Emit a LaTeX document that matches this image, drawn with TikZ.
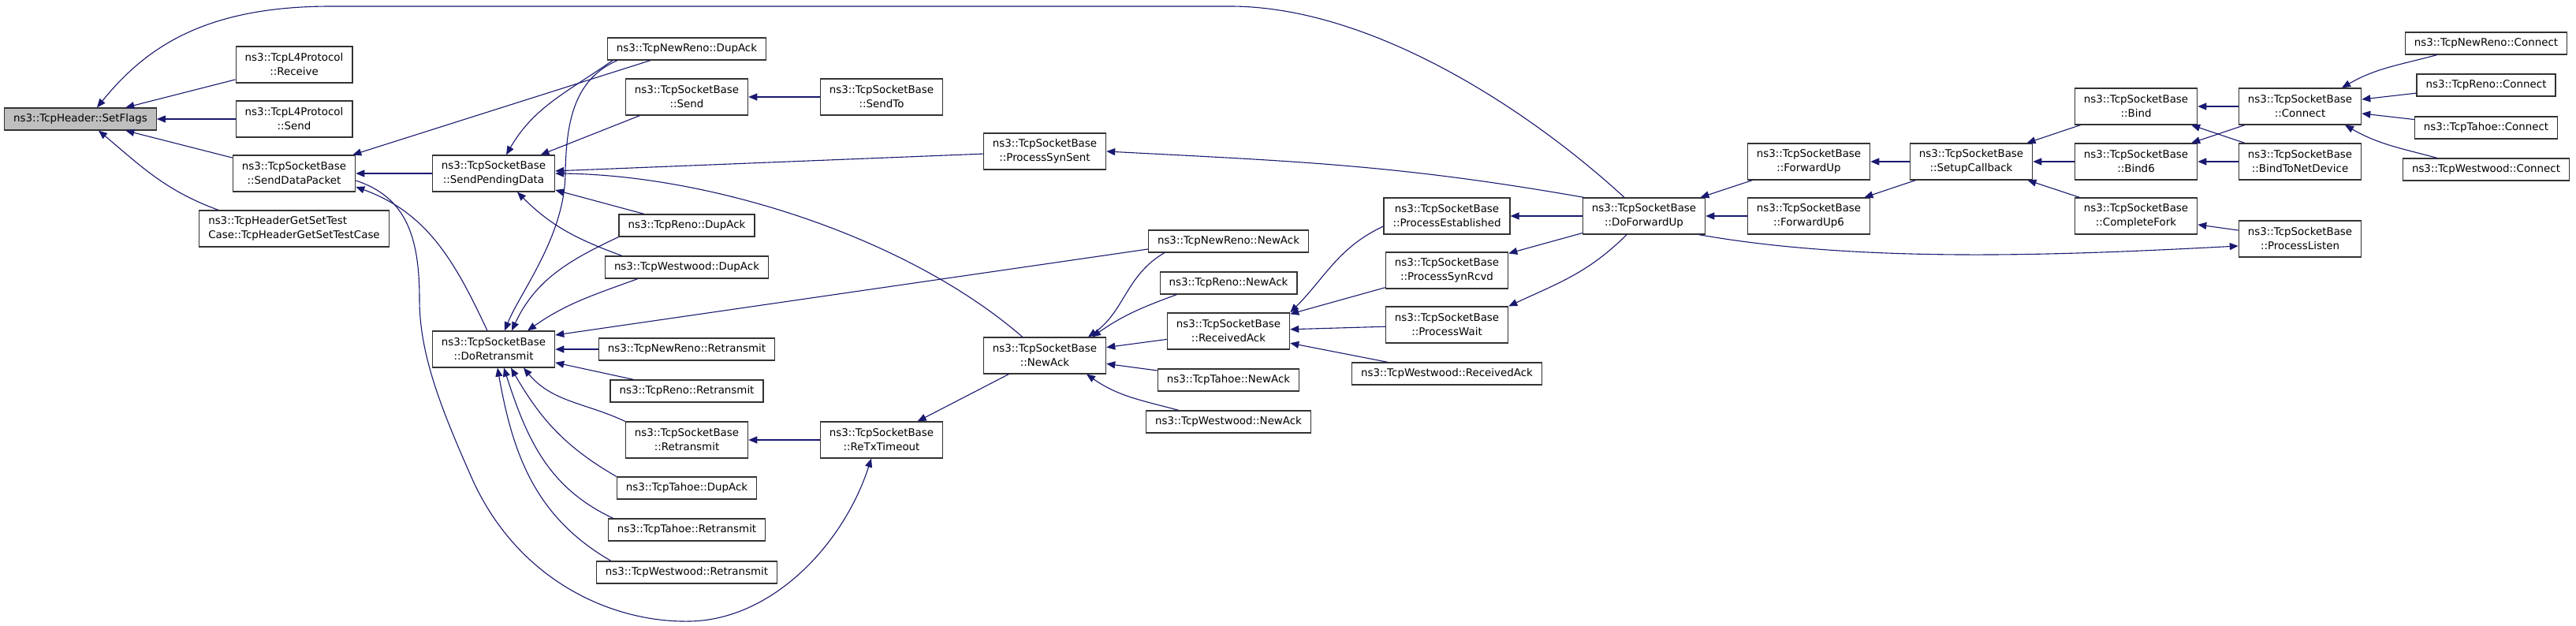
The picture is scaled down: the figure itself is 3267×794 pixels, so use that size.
\documentclass[tikz,border=0pt]{standalone}
\usepackage{fontspec}
\setmainfont{DejaVu Sans}
\usetikzlibrary{arrows.meta}
\definecolor{edgeblue}{HTML}{191970}
\definecolor{rootgray}{HTML}{BFBFBF}
\tikzset{
  fn/.style={draw=black!80, line width=1.2pt, fill=white, inner xsep=11.5pt, inner ysep=0pt,
    minimum height=28pt, font=\fontsize{13.4}{18}\selectfont},
  fn2/.style={fn, align=center, minimum height=46pt},
  root/.style={fn, fill=rootgray},
  call/.style={draw=edgeblue, line width=1.1pt, -{Triangle[length=11pt,width=9pt]}},
}
\begin{document}
\begin{tikzpicture}[x=1pt,y=-1pt]
\path[fill=white] (0,0) rectangle (3267,794);
\useasboundingbox (0,0) rectangle (3267,794);
\node[root] (sf) at (102,151) {ns3::TcpHeader::SetFlags};
\node[fn2] (l4rcv) at (373,82) {ns3::TcpL4Protocol\\::Receive};
\node[fn2] (l4snd) at (373,151) {ns3::TcpL4Protocol\\::Send};
\node[fn2] (sdp) at (373,220) {ns3::TcpSocketBase\\::SendDataPacket};
\node[fn2, align=left] (tc) at (373,290) {ns3::TcpHeaderGetSetTest\\Case::TcpHeaderGetSetTestCase};
\node[fn2] (spd) at (626,220) {ns3::TcpSocketBase\\::SendPendingData};
\node[fn2] (dortx) at (626,443) {ns3::TcpSocketBase\\::DoRetransmit};
\node[fn] (nrdup) at (871,62) {ns3::TcpNewReno::DupAck};
\node[fn2] (snd) at (871,123) {ns3::TcpSocketBase\\::Send};
\node[fn] (renodup) at (871,286) {ns3::TcpReno::DupAck};
\node[fn] (wwdup) at (871,339) {ns3::TcpWestwood::DupAck};
\node[fn] (nrrtx) at (871,443) {ns3::TcpNewReno::Retransmit};
\node[fn] (renortx) at (871,496) {ns3::TcpReno::Retransmit};
\node[fn2] (rtx) at (871,558) {ns3::TcpSocketBase\\::Retransmit};
\node[fn] (tahoedup) at (871,619) {ns3::TcpTahoe::DupAck};
\node[fn] (tahoertx) at (871,672) {ns3::TcpTahoe::Retransmit};
\node[fn] (wwrtx) at (871,726) {ns3::TcpWestwood::Retransmit};
\node[fn2] (sndto) at (1118,123) {ns3::TcpSocketBase\\::SendTo};
\node[fn2] (rtxto) at (1118,558) {ns3::TcpSocketBase\\::ReTxTimeout};
\node[fn2] (pss) at (1325,192) {ns3::TcpSocketBase\\::ProcessSynSent};
\node[fn2] (newack) at (1325,451) {ns3::TcpSocketBase\\::NewAck};
\node[fn] (nrnew) at (1558,306) {ns3::TcpNewReno::NewAck};
\node[fn] (renonew) at (1558,359) {ns3::TcpReno::NewAck};
\node[fn2] (rack) at (1558,420) {ns3::TcpSocketBase\\::ReceivedAck};
\node[fn] (tahoenew) at (1558,482) {ns3::TcpTahoe::NewAck};
\node[fn] (wwnew) at (1558,535) {ns3::TcpWestwood::NewAck};
\node[fn2] (pe) at (1835,274) {ns3::TcpSocketBase\\::ProcessEstablished};
\node[fn2] (psr) at (1835,343) {ns3::TcpSocketBase\\::ProcessSynRcvd};
\node[fn2] (pw) at (1835,412) {ns3::TcpSocketBase\\::ProcessWait};
\node[fn] (wwrack) at (1835,474) {ns3::TcpWestwood::ReceivedAck};
\node[fn2] (dfu) at (2085,274) {ns3::TcpSocketBase\\::DoForwardUp};
\node[fn2] (fu) at (2294,205) {ns3::TcpSocketBase\\::ForwardUp};
\node[fn2] (fu6) at (2294,274) {ns3::TcpSocketBase\\::ForwardUp6};
\node[fn2] (scb) at (2500,205) {ns3::TcpSocketBase\\::SetupCallback};
\node[fn2] (bind) at (2709,135) {ns3::TcpSocketBase\\::Bind};
\node[fn2] (bind6) at (2709,205) {ns3::TcpSocketBase\\::Bind6};
\node[fn2] (cfork) at (2709,274) {ns3::TcpSocketBase\\::CompleteFork};
\node[fn2] (conn) at (2917,135) {ns3::TcpSocketBase\\::Connect};
\node[fn2] (btnd) at (2917,205) {ns3::TcpSocketBase\\::BindToNetDevice};
\node[fn2] (plisten) at (2917,303) {ns3::TcpSocketBase\\::ProcessListen};
\node[fn] (nrconn) at (3153,55) {ns3::TcpNewReno::Connect};
\node[fn] (renoconn) at (3153,108) {ns3::TcpReno::Connect};
\node[fn] (tahoeconn) at (3153,162) {ns3::TcpTahoe::Connect};
\node[fn] (wwconn) at (3153,215) {ns3::TcpWestwood::Connect};
% straight calls
\foreach \a/\b in {l4rcv/sf, l4snd/sf, sdp/sf, spd/sdp, nrdup/sdp, snd/spd, sndto/snd, pss/spd,
    renodup/spd, nrrtx/dortx, renortx/dortx, rtxto/rtx, newack/rtxto, rack/newack, tahoenew/newack,
    psr/rack, pw/rack, wwrack/rack, dfu/pe, dfu/psr, fu/dfu, fu6/dfu, scb/fu, scb/fu6, bind/scb,
    bind6/scb, cfork/scb, conn/bind, btnd/bind, conn/bind6, btnd/bind6, plisten/cfork,
    renoconn/conn, tahoeconn/conn}
    \draw[call] (\a) -- (\b);
% curved calls
\draw[call] ([xshift=-25pt]dfu.north) .. controls (1940,140) and (1740,8) .. (1560,8) -- (420,8)
    .. controls (260,8) and (185,60) .. ([xshift=21pt]sf.north);
\draw[call] ([xshift=-96pt]tc.north) to[out=160,in=-40] ([xshift=23pt]sf.south);
\draw[call] ([xshift=-8pt]dortx.north) to[out=115,in=-20] ([yshift=-17pt]sdp.east);
\draw[call] ([yshift=-9pt]sdp.east) .. controls (515,250) and (532,300) .. (532,380)
    .. controls (532,450) and (560,520) .. (600,610) .. controls (660,740) and (780,790) .. (875,788)
    .. controls (980,786) and (1070,690) .. ([xshift=-13pt]rtxto.south);
\draw[call] ([xshift=-94pt]nrdup.south) to[out=215,in=60] ([xshift=16pt]spd.north);
\draw[call] ([xshift=50pt]newack.north west) .. controls (1150,300) and (900,222) .. (spd.east);
\draw[call] ([xshift=22pt]wwdup.north west) to[out=160,in=-45] ([xshift=30pt]spd.south);
\draw[call] ([xshift=-88pt]nrdup.south) .. controls (730,100) and (718,150) .. (717,220)
    .. controls (716,300) and (660,370) .. ([xshift=14pt]dortx.north);
\draw[call] (renodup.south west) to[out=205,in=65] ([xshift=23pt]dortx.north);
\draw[call] ([xshift=42pt]wwdup.south west) to[out=200,in=35] ([xshift=43pt]dortx.north);
\draw[call] ([yshift=-10pt]nrnew.west) -- ([yshift=18pt]dortx.east);
\draw[call] (rtx.north west) to[out=155,in=-50] ([xshift=38pt]dortx.south);
\draw[call] (tahoedup.north west) to[out=150,in=-60] ([xshift=22pt]dortx.south);
\draw[call] ([xshift=7pt]tahoertx.north west) to[out=155,in=-72] ([xshift=13pt]dortx.south);
\draw[call] ([xshift=19pt]wwrtx.north west) to[out=150,in=-80] ([xshift=5pt]dortx.south);
\draw[call] ([xshift=21pt]nrnew.south west) to[out=210,in=35] ([xshift=55pt]newack.north);
\draw[call] ([xshift=22pt]renonew.south west) to[out=200,in=35] ([xshift=60pt]newack.north);
\draw[call] ([xshift=42pt]wwnew.north west) to[out=165,in=-35] ([xshift=53pt]newack.south);
\draw[call] ([yshift=-13pt]pe.west) to[out=205,in=45] (rack.north east);
\draw[call] ([xshift=2pt]dfu.north west) to[out=170,in=-3] (pss.east);
\draw[call] ([xshift=-22pt]dfu.south) to[out=225,in=25] (pw.north east);
\draw[call] ([xshift=-9pt]dfu.south east) to[out=-10,in=183,looseness=0.8] ([yshift=-9pt]plisten.west);
\draw[call] ([xshift=41pt]nrconn.south west) to[out=195,in=30] ([xshift=53pt]conn.north);
\draw[call] ([xshift=44pt]wwconn.north west) to[out=165,in=-30] ([xshift=57pt]conn.south);
\end{tikzpicture}
\end{document}
